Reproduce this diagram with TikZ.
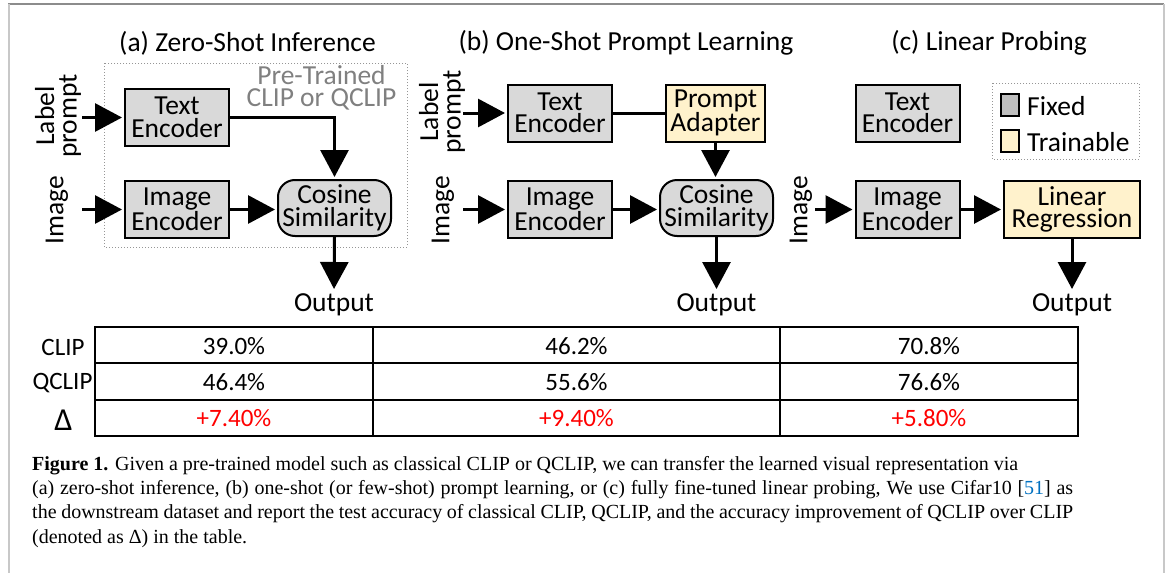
\documentclass[tikz,border=0pt]{standalone}
\usepackage{fontspec}
\setmainfont{Carlito}
\newfontfamily\capfont{Liberation Serif}
\usetikzlibrary{arrows.meta}

\definecolor{boxgray}{RGB}{217,217,217}
\definecolor{fixgray}{RGB}{191,191,191}
\definecolor{trainyel}{RGB}{255,242,204}
\definecolor{dotgray}{RGB}{150,150,150}
\definecolor{pregray}{RGB}{128,128,128}
\definecolor{deltared}{RGB}{255,0,0}
\definecolor{citeblue}{RGB}{0,112,192}
\definecolor{framedark}{RGB}{140,140,140}
\definecolor{framelight}{RGB}{200,200,200}

\tikzset{
  txt/.style={font=\fontsize{27.5}{22.5}\selectfont, inner sep=0pt},
  block/.style={txt, draw=black, line width=2pt, fill=boxgray, align=center,
    minimum width=104pt, minimum height=57pt},
  trainblock/.style={block, fill=trainyel},
  simblock/.style={block, rounded corners=17pt, minimum width=113pt, minimum height=56pt},
  sidelabel/.style={txt, rotate=90, align=center},
  flow/.style={line width=3pt, -{Triangle[length=27pt,width=28pt]}, shorten >=2pt},
  plain/.style={line width=3pt},
  dotbox/.style={draw=dotgray, dotted, line width=1pt},
  swatch/.style={draw=black, line width=2pt, minimum width=18pt, minimum height=22pt, inner sep=0pt},
  cell/.style={font=\fontsize{25}{25}\selectfont, inner sep=0pt, anchor=center},
  grid/.style={line width=2.5pt}
}

\begin{document}
\begin{tikzpicture}[x=1pt, y=-1pt]
\useasboundingbox (0,0) rectangle (1168,573);

% page frame
\draw[framedark, line width=1.5pt] (8,4) -- (1164,4);
\draw[framelight, line width=2pt] (9,4) -- (9,573);
\draw[framelight, line width=2pt] (1164,4) -- (1164,573);

% ---------- (a) zero-shot inference ----------
\node[txt] (titleA) at (247.5,43) {(a) Zero-Shot Inference};
\draw[dotbox] (104,63) rectangle (407,247);
\node[txt, text=pregray, align=center] (pretrained) at (321.5,88) {Pre-Trained\\CLIP or QCLIP};

\node[block] (teA) at (177,117.5) {Text\\Encoder};
\node[block] (ieA) at (177,209.5) {Image\\Encoder};
\node[simblock] (cosA) at (334.5,208) {Cosine\\Similarity};
\node[sidelabel] (lpA) at (58,116) {Label\\prompt};
\node[sidelabel] (imA) at (57,210) {Image};
\node[txt, anchor=north, inner sep=2pt] (outA) at (334,291) {Output};

\coordinate (inTA) at (82,117.5);
\coordinate (inIA) at (82,209.5);
\draw[flow] (inTA) -- (teA.west);
\draw[flow] (inIA) -- (ieA.west);
\draw[flow] (ieA.east) -- (ieA.east -| cosA.west);
\draw[flow] (teA.east) -| (cosA.north);
\draw[flow] (cosA.south) -- (outA.north);

% ---------- (b) one-shot prompt learning ----------
\node[txt] (titleB) at (626,43) {(b) One-Shot Prompt Learning};

\node[block] (teB) at (560,113) {Text\\Encoder};
\node[trainblock, minimum width=99pt] (adB) at (715.5,113) {Prompt\\Adapter};
\node[block] (ieB) at (560,209.5) {Image\\Encoder};
\node[simblock] (cosB) at (716.5,208) {Cosine\\Similarity};
\node[sidelabel] (lpB) at (442,112) {Label\\prompt};
\node[sidelabel] (imB) at (443,210) {Image};
\node[txt, anchor=north, inner sep=2pt] (outB) at (716.5,291) {Output};

\coordinate (inTB) at (463,113);
\coordinate (inIB) at (463,209.5);
\draw[flow] (inTB) -- (teB.west);
\draw[plain] (teB.east) -- (adB.west);
\draw[flow] (adB.south) -- (adB.south |- cosB.north);
\draw[flow] (inIB) -- (ieB.west);
\draw[flow] (ieB.east) -- (ieB.east -| cosB.west);
\draw[flow] (cosB.south) -- (outB.north);

% ---------- (c) linear probing ----------
\node[txt] (titleC) at (989,43) {(c) Linear Probing};

\node[block] (teC) at (907.5,113) {Text\\Encoder};
\node[block] (ieC) at (907.5,209.5) {Image\\Encoder};
\node[trainblock, minimum width=136pt] (lrC) at (1072,209.5) {Linear\\Regression};
\node[sidelabel] (imC) at (801,210) {Image};
\node[txt, anchor=north, inner sep=2pt] (outC) at (1072,291) {Output};

\coordinate (inIC) at (815,209.5);
\draw[flow] (inIC) -- (ieC.west);
\draw[flow] (ieC.east) -- (lrC.west);
\draw[flow] (lrC.south) -- (outC.north);

% legend
\draw[dotbox] (992,83) rectangle (1139,159);
\node[swatch, fill=fixgray] (swFixed) at (1010,105) {};
\node[swatch, fill=trainyel] (swTrain) at (1010,141) {};
\node[txt, anchor=west] (lgFixed) at (1027,106) {Fixed};
\node[txt, anchor=west] (lgTrain) at (1027,142) {Trainable};

% ---------- accuracy table ----------
\draw[grid] (95,327) rectangle (1078,436);
\draw[grid] (95,363) -- (1078,363);
\draw[grid] (95,400) -- (1078,400);
\draw[grid] (373,327) -- (373,436);
\draw[grid] (780,327) -- (780,436);

\node[cell] (rCLIP) at (63,347) {CLIP};
\node[cell] (rQCLIP) at (62.5,383) {QCLIP};
\node[cell, font=\fontsize{32}{32}\selectfont] (rDelta) at (63.5,420) {Δ};

\node[cell] (c11) at (234,346) {39.0\%};
\node[cell] (c12) at (576.5,346) {46.2\%};
\node[cell] (c13) at (929,346) {70.8\%};
\node[cell] (c21) at (234,382) {46.4\%};
\node[cell] (c22) at (576.5,382) {55.6\%};
\node[cell] (c23) at (929,382) {76.6\%};
\node[cell, text=deltared] (c31) at (234,418.5) {+7.40\%};
\node[cell, text=deltared] (c32) at (576.5,418.5) {+9.40\%};
\node[cell, text=deltared] (c33) at (929,418.5) {+5.80\%};

% ---------- caption ----------
\node[anchor=north west, inner sep=0pt, text width=1041pt, align=justify,
      font=\capfont\fontsize{20}{24.3}\selectfont] (caption) at (32,456)
{\textbf{Figure 1.} Given a pre-trained model such as classical CLIP or QCLIP, we can transfer the learned visual representation via\\
(a) zero-shot inference, (b) one-shot (or few-shot) prompt learning, or (c) fully fine-tuned linear probing, We use Cifar10 [{\color{citeblue}51}] as\linebreak
the downstream dataset and report the test accuracy of classical CLIP, QCLIP, and the accuracy improvement of QCLIP over CLIP\linebreak
(denoted as Δ) in the table.};

\end{tikzpicture}
\end{document}
